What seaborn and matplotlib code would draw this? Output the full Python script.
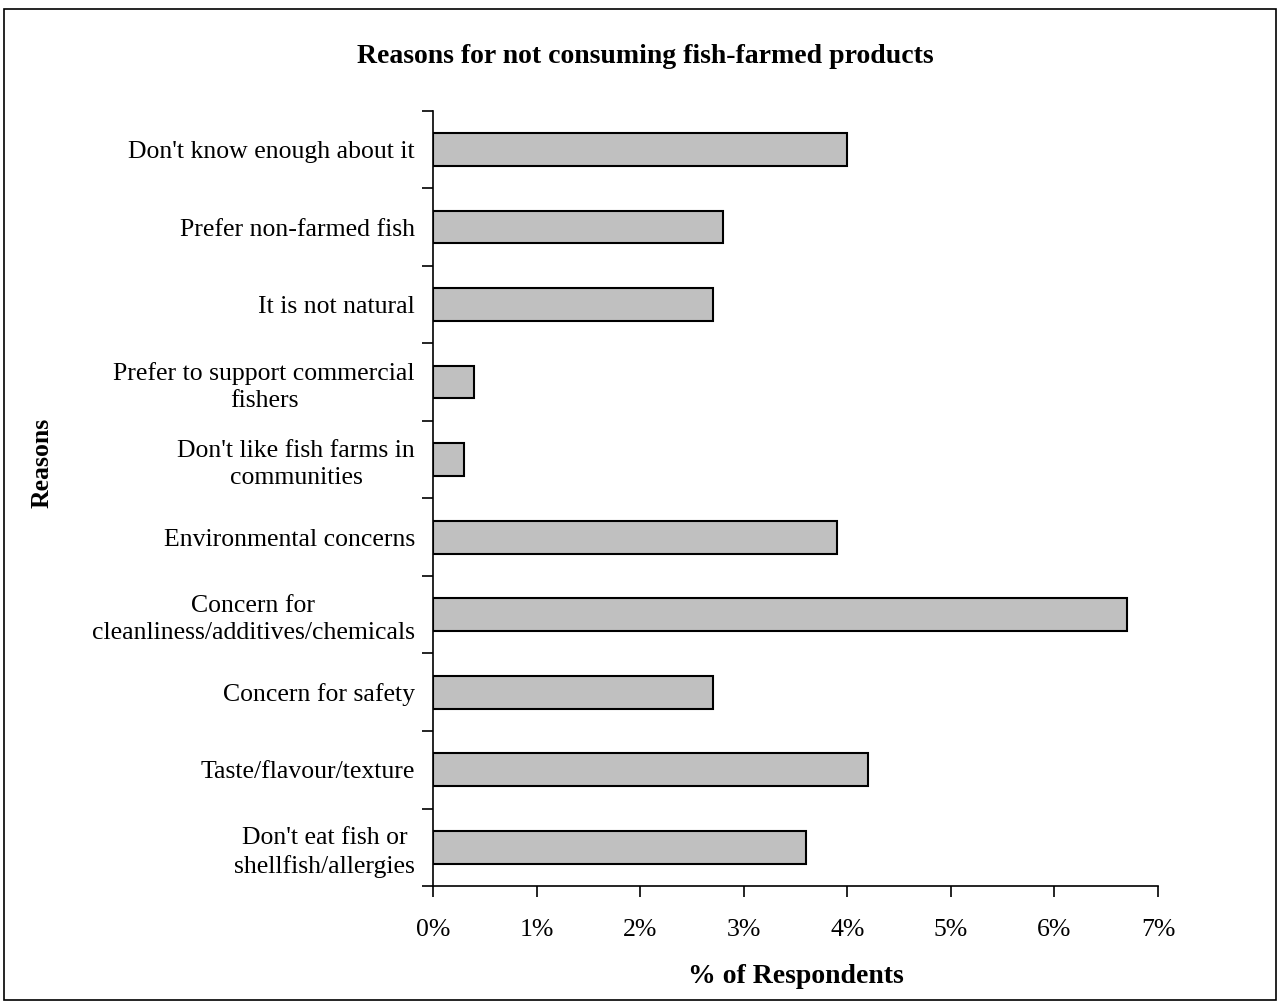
import matplotlib
matplotlib.use("Agg")
import matplotlib.pyplot as plt
import matplotlib.patches as mpatches
from matplotlib.ticker import FixedLocator, PercentFormatter
import pandas as pd
import seaborn as sns

reasons = [
    "Don't know enough about it",
    "Prefer non-farmed fish",
    "It is not natural",
    "Prefer to support commercial\nfishers",
    "Don't like fish farms in\ncommunities",
    "Environmental concerns",
    "Concern for\ncleanliness/additives/chemicals",
    "Concern for safety",
    "Taste/flavour/texture",
    "Don't eat fish or\nshellfish/allergies",
]
percent_respondents = [4.0, 2.8, 2.7, 0.4, 0.3, 3.9, 6.7, 2.7, 4.2, 3.6]
x_ticks = [0, 1, 2, 3, 4, 5, 6, 7]

df = pd.DataFrame({"reason": reasons, "pct": percent_respondents})

sns.set_theme(style="white")
plt.rcParams["font.family"] = ["Liberation Serif", "DejaVu Serif"]
plt.rcParams["text.color"] = "black"

fig = plt.figure(figsize=(12.8, 10.05), dpi=100)
ax = fig.add_axes([0.3383, 0.1184, 0.5664, 0.7712])

sns.barplot(data=df, x="pct", y="reason", orient="h", color="#C0C0C0",
            edgecolor="black", linewidth=1.5, width=0.42, saturation=1,
            ax=ax)

ax.set_xlim(0, 7)
ax.set_ylim(len(reasons) - 0.5, -0.5)
ax.xaxis.set_major_locator(FixedLocator(x_ticks))
ax.xaxis.set_major_formatter(PercentFormatter(decimals=0))

for side in ["top", "right"]:
    ax.spines[side].set_visible(False)
for side in ["left", "bottom"]:
    ax.spines[side].set_color("black")
    ax.spines[side].set_linewidth(1.2)

# category labels without marks; boundary ticks between categories
ax.tick_params(axis="y", which="major", length=0, pad=13, labelsize=18.5,
               labelcolor="black")
ax.yaxis.set_minor_locator(FixedLocator([i - 0.5 for i in range(len(reasons) + 1)]))
ax.tick_params(axis="y", which="minor", left=True, length=8, width=1.2,
               color="black", direction="out")
ax.tick_params(axis="x", which="major", bottom=True, length=8, width=1.2,
               color="black", direction="out", pad=16, labelsize=18.5,
               labelcolor="black")
for lbl in ax.get_yticklabels():
    lbl.set_multialignment("center")
    lbl.set_linespacing(1.3)

ax.set_xlabel("% of Respondents", fontsize=20, fontweight="bold",
              labelpad=16, color="black")
ax.set_ylabel("")
fig.text(0.033, 0.539, "Reasons", rotation=90, fontsize=18.5,
         fontweight="bold", ha="center", va="center", color="black")
fig.text(0.504, 0.944, "Reasons for not consuming fish-farmed products",
         fontsize=20, fontweight="bold", ha="center", va="center",
         color="black")

fig.patches.append(mpatches.Rectangle((0.003, 0.005), 0.994, 0.986,
                                      transform=fig.transFigure, fill=False,
                                      edgecolor="black", linewidth=1.2))

fig.savefig("out.png", dpi=100, facecolor="white")
